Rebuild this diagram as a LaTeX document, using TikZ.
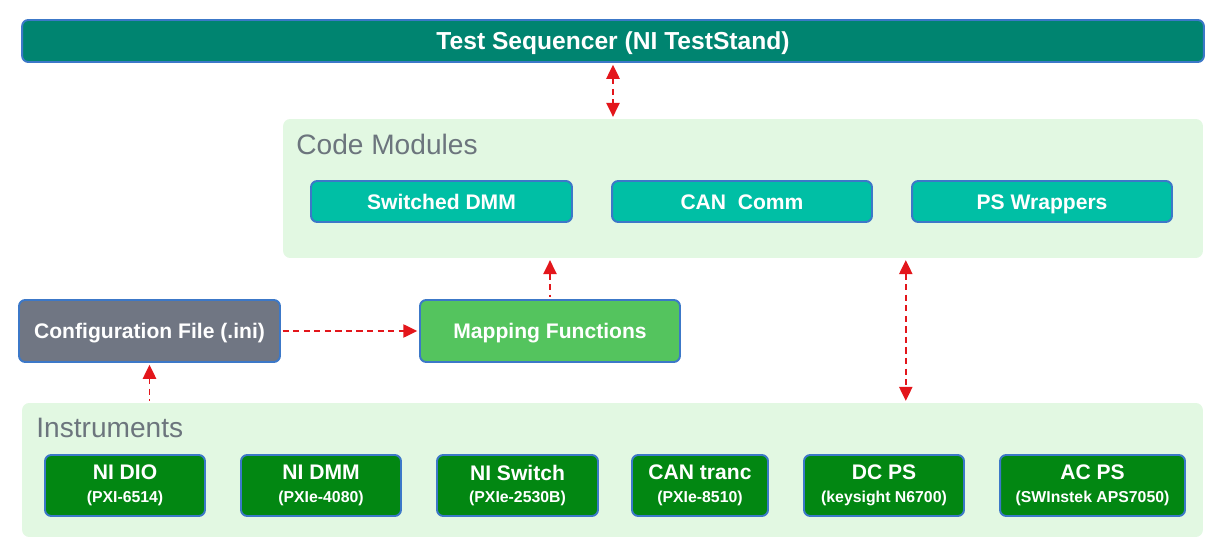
\documentclass[tikz,border=0pt]{standalone}
\usepackage{fontspec}
\setmainfont{Liberation Sans}
\usetikzlibrary{arrows.meta}

\begin{document}
\begin{tikzpicture}[x=0.02cm,y=-0.02cm,
        base/.style={rounded corners=3.5pt,draw=bborde,line width=1.1pt,text=white,font=\bfseries\fontsize{12}{14}\selectfont,inner sep=0pt,align=center},
        caja/.style={base,text height=8.6pt,text depth=0pt},
        grupo/.style={rounded corners=4pt,fill=fondo,inner sep=0pt},
        rotulo/.style={anchor=base west,text=gris,font=\fontsize{16}{18}\selectfont,inner sep=0pt},
        instr/.style={base,fill=verdei,minimum height=1.22cm},
        flecha/.style={rojo,line width=1.1pt,dash pattern=on 3.5pt off 2.5pt,{Triangle[length=8pt,width=7.5pt]}-{Triangle[length=8pt,width=7.5pt]},shorten <=1pt,shorten >=1pt}]
        %colores
        \definecolor{bborde}{RGB}{60,120,200}
        \definecolor{fondo}{RGB}{226,248,226}
        \definecolor{gris}{RGB}{108,117,125}
        \definecolor{teal}{RGB}{0,132,112}
        \definecolor{tealc}{RGB}{0,191,165}
        \definecolor{grisc}{RGB}{112,118,131}
        \definecolor{verdem}{RGB}{84,196,94}
        \definecolor{verdei}{RGB}{2,135,18}
        \definecolor{rojo}{RGB}{227,22,27}

        \useasboundingbox (0,0) rectangle (1219,546);

        % Secuenciador
        \node[caja,fill=teal,minimum width=23.64cm,minimum height=0.84cm,text height=10pt,font=\bfseries\fontsize{14}{16}\selectfont] (seq) at (613,41) {Test Sequencer (NI TestStand)};

        % Grupo modulos
        \node[grupo,minimum width=18.4cm,minimum height=2.78cm] (code) at (743,188.5) {};
        \node[rotulo] (codetxt) at (296,155) {Code Modules};
        \node[caja,fill=tealc,minimum width=5.22cm,minimum height=0.82cm] (swdmm) at (441.5,201.5) {Switched DMM};
        \node[caja,fill=tealc,minimum width=5.2cm,minimum height=0.82cm] (cancomm) at (742,201.5) {CAN\ \ Comm};
        \node[caja,fill=tealc,minimum width=5.2cm,minimum height=0.82cm] (psw) at (1042,201.5) {PS Wrappers};

        % Configuracion y mapeo
        \node[caja,fill=grisc,minimum width=5.22cm,minimum height=1.24cm] (cfg) at (149.5,331) {Configuration File (.ini)};
        \node[caja,fill=verdem,minimum width=5.2cm,minimum height=1.24cm] (map) at (550,331) {Mapping Functions};

        % Grupo instrumentos
        \node[grupo,minimum width=23.62cm,minimum height=2.68cm] (inst) at (612.5,470) {};
        \node[rotulo] (insttxt) at (36,438) {Instruments};
        \foreach \nombre/\cx/\ancho/\titulo/\modelo in {dio/125/3.2/NI DIO/PXI-6514,dmm/321/3.2/NI DMM/PXIe-4080,sw/517.5/3.22/NI Switch/PXIe-2530B,can/700/2.72/CAN tranc/PXIe-8510,dcps/884/3.2/DC PS/keysight N6700,acps/1092.5/3.7/AC PS/SWInstek APS7050}
            \node[instr,minimum width=\ancho cm] (\nombre) at (\cx,485.5) {\titulo\\[-1pt]{\fontsize{9}{11}\selectfont(\modelo)}};

        % Conexiones
        \draw[flecha] (seq.south) -- (seq.south |- code.north);
        \draw[flecha,{Triangle[length=8pt,width=7.5pt]}-] (map.north |- code.south) -- (map.north);
        \draw[flecha,-{Triangle[length=8pt,width=7.5pt]}] (cfg.east) -- (map.west);
        \draw[flecha,{Triangle[length=8pt,width=7.5pt]}-] (cfg.south) -- (cfg.south |- inst.north);
        \draw[flecha] ([xshift=-3pt]code.south -| psw.west) -- ([xshift=-3pt]inst.north -| psw.west);
    \end{tikzpicture}
\end{document}
